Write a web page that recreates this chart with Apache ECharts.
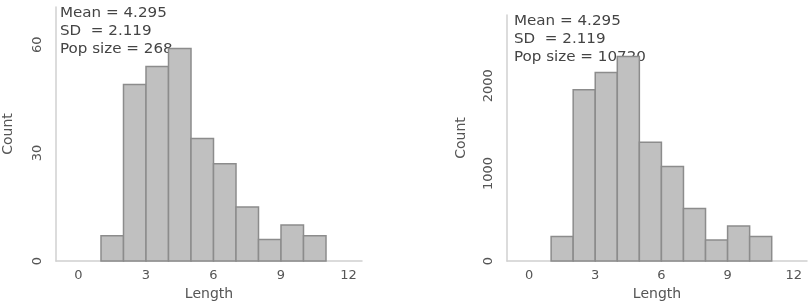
<!DOCTYPE html>
<html>
<head>
<meta charset="utf-8">
<script src="https://cdn.jsdelivr.net/npm/echarts@6/dist/echarts.min.js"></script>
<style>html,body{margin:0;padding:0;background:#fff}#c{width:808px;height:306px}</style>
</head>
<body>
<div id="c"></div>
<script>
// bin left edges (width 1)
const binStarts = [1, 2, 3, 4, 5, 6, 7, 8, 9, 10];
const countsSample = [7, 49, 54, 59, 34, 27, 15, 6, 10, 7];
const countsPop = [280, 1955, 2150, 2335, 1355, 1080, 600, 240, 400, 282];
const xTicks = [0, 3, 6, 9, 12];
const yTicksSample = [0, 30, 60];
const yTicksPop = [0, 1000, 2000];
const statsSample = ['Mean = 4.295', 'SD  = 2.119', 'Pop size = 268'];
const statsPop = ['Mean = 4.295', 'SD  = 2.119', 'Pop size = 10720'];

const FONT = 'DejaVu Sans';
const chart = echarts.init(document.getElementById('c'), null, {renderer: 'canvas'});

function xAxis(idx) {
  return {
    type: 'value', gridIndex: idx, min: -1, max: 12.6,
    name: 'Length', nameLocation: 'middle', nameGap: 24,
    nameTextStyle: {color: '#555', fontSize: 14, fontFamily: FONT},
    axisLine: {show: true, onZero: false, lineStyle: {color: '#d0d0d0', width: 1.5}},
    axisTick: {show: false},
    splitLine: {show: false},
    axisLabel: {customValues: xTicks, color: '#555', fontSize: 13, fontFamily: FONT, margin: 8,
      formatter: v => String(v)}
  };
}
function yAxis(idx, max, ticks, gap) {
  return {
    type: 'value', gridIndex: idx, min: 0, max: max,
    name: 'Count', nameLocation: 'middle', nameGap: gap, nameRotate: 90,
    nameTextStyle: {color: '#555', fontSize: 14, fontFamily: FONT},
    axisLine: {show: true, onZero: false, lineStyle: {color: '#d0d0d0', width: 1.5}},
    axisTick: {show: false},
    splitLine: {show: false},
    axisLabel: {customValues: ticks, rotate: 90, color: '#555', fontSize: 13, fontFamily: FONT, margin: 12,
      formatter: v => String(v)}
  };
}
function hist(idx, counts) {
  return {
    type: 'custom', xAxisIndex: idx, yAxisIndex: idx, zlevel: 1, z: 10,
    data: binStarts.map((b, i) => [b, b + 1, counts[i]]),
    renderItem: function (params, api) {
      const p0 = api.coord([api.value(0), 0]);
      const p1 = api.coord([api.value(1), api.value(2)]);
      return {
        type: 'rect',
        shape: {x: p0[0], y: p1[1], width: p1[0] - p0[0], height: p0[1] - p1[1]},
        style: {fill: '#c0c0c0', stroke: '#8c8c8c', lineWidth: 1.5}
      };
    }
  };
}
function statText(lines, left, top) {
  return lines.map((t, i) => ({
    type: 'text', x: left, y: top + i * 18, scaleX: 1.12, z: 0,
    style: {text: t, fill: '#444', font: '13.5px "' + FONT + '"'}
  }));
}

chart.setOption({
  animation: false,
  grid: [
    {left: 53, right: 446, top: 7, bottom: 42},
    {left: 507, right: 1, top: 15, bottom: 42}
  ],
  xAxis: [xAxis(0), xAxis(1)],
  yAxis: [yAxis(0, 70.5, yTicksSample, 41), yAxis(1, 2807, yTicksPop, 39)],
  series: [hist(0, countsSample), hist(1, countsPop)],
  graphic: {zlevel: 0, elements: [].concat(statText(statsSample, 60, 6), statText(statsPop, 514, 14))}
});
</script>
</body>
</html>
